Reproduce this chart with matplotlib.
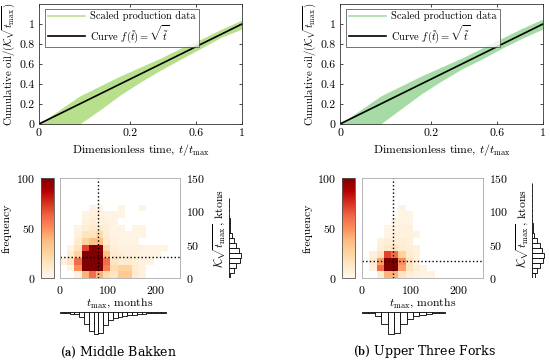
import numpy as np
import matplotlib
matplotlib.use("Agg")
import matplotlib.pyplot as plt
from matplotlib.lines import Line2D

plt.rcParams['font.family'] = 'serif'
plt.rcParams['font.serif'] = ['cmr10', 'DejaVu Serif']
plt.rcParams['mathtext.fontset'] = 'cm'
plt.rcParams['axes.formatter.use_mathtext'] = True
plt.rcParams['font.size'] = 8.5

# ---- top panels: scaled production band ----
band_pos = [0, 0.05, 0.1, 0.15, 0.2, 0.3, 0.4, 0.5, 0.6, 0.7, 0.8, 0.9, 1.0]
upper_a = [0, 0.07, 0.14, 0.21, 0.28, 0.38, 0.48, 0.57, 0.66, 0.76, 0.85, 0.95, 1.04]
lower_a = [0, 0, 0, 0, 0, 0.14, 0.29, 0.42, 0.54, 0.65, 0.76, 0.87, 0.95]
upper_b = [0, 0.07, 0.14, 0.21, 0.28, 0.38, 0.48, 0.57, 0.66, 0.76, 0.86, 0.96, 1.05]
lower_b = [0, 0, 0, 0, 0, 0.15, 0.3, 0.43, 0.55, 0.65, 0.76, 0.86, 0.95]
curve_t = [0, 1]
xtick_t = [0, 0.2, 0.6, 1]
xtick_lbl = ['0', '0.2', '0.6', '1']

# ---- heatmaps: counts per cell, rows = 10 kton bins, cols = 15 month bins ----
x_edges = np.arange(0, 256, 15)
y_edges = np.arange(0, 121, 10)
heat_a = [
    [0, 0, 5, 40, 60, 40, 20, 15, 30, 30, 10, 5, 0, 0, 0, 0, 0],
    [0, 3, 50, 100, 100, 100, 55, 20, 25, 25, 10, 5, 0, 0, 0, 0, 0],
    [5, 15, 60, 100, 100, 100, 60, 15, 10, 10, 8, 5, 3, 0, 0, 0, 0],
    [0, 8, 25, 100, 100, 100, 35, 10, 8, 5, 5, 3, 3, 3, 0, 0, 0],
    [0, 3, 15, 70, 100, 95, 20, 8, 5, 5, 5, 5, 3, 3, 3, 0, 0],
    [0, 0, 10, 25, 35, 35, 10, 5, 3, 3, 3, 0, 0, 0, 0, 0, 0],
    [0, 0, 5, 15, 15, 20, 8, 3, 3, 3, 3, 3, 0, 0, 0, 0, 0],
    [0, 0, 3, 8, 12, 12, 8, 3, 3, 0, 3, 3, 0, 0, 0, 0, 0],
    [0, 0, 0, 5, 8, 5, 5, 3, 0, 0, 0, 0, 0, 0, 0, 0, 0],
    [0, 0, 0, 3, 5, 5, 3, 3, 3, 0, 0, 0, 0, 0, 0, 0, 0],
    [0, 0, 0, 0, 3, 3, 0, 0, 3, 0, 0, 3, 0, 0, 0, 0, 0],
    [0, 0, 0, 0, 0, 0, 0, 0, 0, 0, 0, 0, 0, 0, 0, 0, 0],
]
heat_b = [
    [0, 0, 10, 40, 40, 15, 8, 5, 3, 3, 0, 0, 0, 0, 0, 0, 0],
    [0, 5, 60, 100, 100, 45, 15, 8, 3, 0, 0, 0, 0, 0, 0, 0, 0],
    [0, 10, 45, 100, 100, 50, 15, 5, 0, 0, 0, 0, 0, 0, 0, 0, 0],
    [0, 5, 15, 70, 60, 25, 10, 5, 0, 0, 0, 0, 0, 0, 0, 0, 0],
    [0, 0, 8, 12, 15, 10, 8, 5, 0, 0, 0, 0, 0, 0, 0, 0, 0],
    [0, 0, 5, 8, 8, 8, 5, 0, 0, 0, 0, 0, 0, 0, 0, 0, 0],
    [0, 0, 0, 3, 5, 5, 5, 3, 0, 0, 0, 0, 0, 0, 0, 0, 0],
    [0, 0, 0, 3, 3, 5, 5, 0, 0, 0, 0, 0, 0, 0, 0, 0, 0],
    [0, 0, 0, 0, 3, 3, 3, 0, 0, 0, 0, 0, 0, 0, 0, 0, 0],
    [0, 0, 0, 0, 0, 3, 3, 0, 0, 0, 0, 0, 0, 0, 0, 0, 0],
    [0, 0, 0, 0, 0, 3, 0, 0, 0, 0, 0, 0, 0, 0, 0, 0, 0],
    [0, 0, 0, 0, 0, 0, 0, 0, 0, 0, 0, 0, 0, 0, 0, 0, 0],
]
median_a = (80, 31)   # (months, ktons) crosshair
median_b = (64, 26)

# ---- marginal histograms ----
tmax_bin_a = 10
tmax_hist_a = [0.5, 1, 1.5, 2, 5, 12, 19, 22, 21, 13, 8, 6, 5, 4, 3, 2.5, 2, 1.5, 1, 0.7, 0.5, 0.3]
tmax_bin_b = 13.2
tmax_hist_b = [0.3, 1, 4, 12, 22, 21, 12, 7, 4, 2.5, 1.5, 1, 0.5]
k_bin = 7.5
k_hist_a = [0.1, 0.39, 0.61, 0.91, 1.0, 0.84, 0.61, 0.39, 0.23, 0.07, 0.04, 0.03, 0.02, 0.02, 0.01, 0.01]
k_hist_b = [0.2, 0.4, 0.66, 0.87, 1.0, 0.8, 0.66, 0.4, 0.13, 0.04, 0.03, 0.02, 0.02, 0.01, 0.01, 0.01, 0.01, 0.01, 0.01]

green_a = '#b8e08c'
green_b = '#a6dba6'

W, H = 550, 364
fig = plt.figure(figsize=(W / 100, H / 100), dpi=100)


def px_axes(l, t, r, b):
    return fig.add_axes([l / W, 1 - b / H, (r - l) / W, (b - t) / H])


def top_panel(ax, upper, lower, green):
    ax.fill_between(band_pos, lower, upper, color=green, lw=0)
    ct = np.array(curve_t)
    ax.plot(np.sqrt(ct), np.sqrt(ct), color='black', lw=1.2)
    ax.set_xlim(0, 1)
    ax.set_ylim(0, 1.2)
    ax.set_xticks(np.sqrt(xtick_t))
    ax.set_xticklabels(xtick_lbl)
    ax.set_yticks([0, 0.2, 0.4, 0.6, 0.8, 1])
    ax.set_yticklabels(['0', '0.2', '0.4', '0.6', '0.8', '1'])
    ax.tick_params(direction='in', length=2.5, width=0.5, top=True, right=True, pad=3)
    for s in ax.spines.values():
        s.set_linewidth(0.6)
        s.set_color('#333333')
    ax.set_xlabel(r'Dimensionless time, $t/t_{\max}$', labelpad=3)
    ax.set_ylabel(r'Cumulative oil$/(\mathcal{K}\sqrt{t_{\max}})$', labelpad=1,
                  fontsize=7.8)
    handles = [Line2D([], [], color=green, lw=1.2),
               Line2D([], [], color='black', lw=1.2)]
    labels = ['Scaled production data', r'Curve $f(\tilde{t})=\sqrt{\tilde{t}}$']
    leg = ax.legend(handles, labels, loc='upper left', fontsize=7.5, fancybox=False,
                    handlelength=3.6, borderpad=0.25, labelspacing=0.15,
                    handletextpad=0.5, bbox_to_anchor=(0.03, 0.96), borderaxespad=0)
    leg.get_frame().set_edgecolor('#333333')
    leg.get_frame().set_linewidth(0.6)


def bottom_panel(cb_box, hm_box, rh_box, bh_box, heat, med, tbin, thist, khist):
    ax = px_axes(*hm_box)
    z = np.ma.masked_equal(np.array(heat, dtype=float), 0)
    mesh = ax.pcolormesh(x_edges, y_edges, z, cmap='OrRd', vmin=0, vmax=100)
    ax.axvline(med[0], color='black', ls=':', lw=1)
    ax.axhline(med[1], color='black', ls=':', lw=1)
    ax.set_xlim(0, 250)
    ax.set_ylim(0, 150)
    ax.set_xticks([0, 100, 200])
    ax.set_yticks([0, 50, 100, 150])
    ax.yaxis.tick_right()
    ax.yaxis.set_label_position('right')
    ax.tick_params(direction='in', length=0, pad=4)
    for s in ax.spines.values():
        s.set_linewidth(0.6)
        s.set_color('#aaaaaa')
    ax.set_xlabel(r'$t_{\max}$, months', labelpad=1)
    ax.set_ylabel(r'$\mathcal{K}\sqrt{t_{\max}}$, ktons', labelpad=5)

    cax = px_axes(*cb_box)
    cb = fig.colorbar(mesh, cax=cax, ticks=[0, 50, 100])
    cax.yaxis.set_ticks_position('left')
    cax.yaxis.set_label_position('left')
    cax.tick_params(length=0, pad=4)
    cb.outline.set_linewidth(0.6)
    cb.outline.set_edgecolor('#555555')
    cb.set_label('frequency', labelpad=3)

    # bottom histogram, hanging down
    bh = px_axes(*bh_box)
    left = np.arange(len(thist)) * tbin
    bh.bar(left, thist, width=tbin, align='edge', color='white',
           edgecolor='black', lw=0.6)
    bh.set_xlim(0, 250)
    bh.set_ylim(max(thist) * 26 / 22, -0.3)
    bh.axis('off')

    # right histogram
    rh = px_axes(*rh_box)
    bottom = np.arange(len(khist)) * k_bin
    rh.barh(bottom, khist, height=k_bin, align='edge', color='white',
            edgecolor='black', lw=0.6)
    rh.set_ylim(0, 150)
    rh.set_xlim(-0.02, max(khist) * 14 / 12)
    rh.axis('off')


ax_a = px_axes(39, 4, 242, 124)
top_panel(ax_a, upper_a, lower_a, green_a)
ax_b = px_axes(340, 4, 543, 124)
top_panel(ax_b, upper_b, lower_b, green_b)

bottom_panel((41, 178, 54, 278), (60, 178, 180, 278), (229, 178, 243, 278),
             (60, 312, 180, 338), heat_a, median_a, tmax_bin_a, tmax_hist_a, k_hist_a)
bottom_panel((342, 178, 355, 278), (362, 178, 483, 278), (532, 178, 546, 278),
             (362, 312, 483, 338), heat_b, median_b, tmax_bin_b, tmax_hist_b, k_hist_b)

fig.text(118 / W, 1 - 352 / H, r'($\mathbf{a}$) Middle Bakken', ha='center', va='center',
         fontsize=9, family='DejaVu Serif')
fig.text(425 / W, 1 - 352 / H, r'($\mathbf{b}$) Upper Three Forks', ha='center', va='center',
         fontsize=9, family='DejaVu Serif')

fig.savefig('out.png', dpi=100)
